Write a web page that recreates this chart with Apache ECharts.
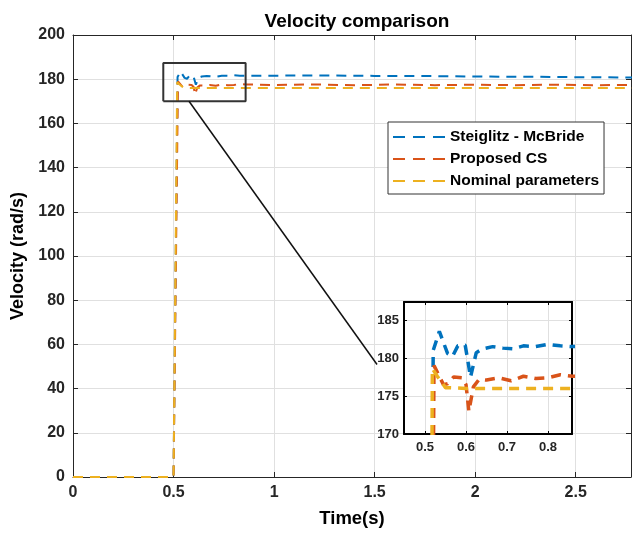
<!DOCTYPE html>
<html>
<head>
<meta charset="utf-8">
<script src="https://cdn.jsdelivr.net/npm/echarts@6/dist/echarts.min.js"></script>
<style>
html,body{margin:0;padding:0;background:#fff;}
#chart{width:633px;height:533px;}
</style>
</head>
<body>
<div id="chart"></div>
<script>
// ---- data ----
const seriesNames = ['Steiglitz - McBride', 'Proposed CS', 'Nominal parameters'];
const xTickLabels = [0, 0.5, 1, 1.5, 2, 2.5];
const insetXTicks = [0.5, 0.6, 0.7, 0.8];

const steiglitzT = [0, 0.5, 0.503, 0.52, 0.535, 0.555, 0.567, 0.58, 0.598, 0.604, 0.611, 0.625, 0.64, 0.665, 0.69, 0.714, 0.74, 0.77, 0.8, 0.83, 0.86, 1.0, 1.2, 1.5, 1.8, 2.0, 2.3, 2.5, 2.78];
const steiglitzV = [0, 0, 0, 181, 183.5, 180.6, 180.2, 181.6, 181.7, 179.8, 177.5, 180.7, 181.2, 181.5, 181.3, 181.2, 181.6, 181.5, 181.8, 181.6, 181.5, 181.6, 181.7, 181.5, 181.4, 181.2, 181.1, 180.9, 180.8];

const proposedT = [0, 0.5, 0.503, 0.522, 0.545, 0.555, 0.57, 0.59, 0.6, 0.607, 0.618, 0.632, 0.65, 0.68, 0.71, 0.74, 0.77, 0.8, 0.83, 0.86, 1.0, 1.2, 1.4, 1.6, 1.8, 2.0, 2.2, 2.4, 2.6, 2.78];
const proposedV = [0, 0, 0, 179, 176.5, 176.6, 177.5, 177.4, 176.5, 173, 176.2, 177.2, 177.1, 177.4, 177.0, 177.6, 177.3, 177.4, 177.8, 177.6, 177.4, 177.6, 177.3, 177.6, 177.3, 177.5, 177.3, 177.5, 177.3, 177.4];

const nominalT = [0, 0.5, 0.503, 0.518, 0.53, 0.55, 0.6, 0.8, 1.0, 1.5, 2.0, 2.5, 2.78];
const nominalV = [0, 0, 0, 178.6, 177.6, 176.1, 176, 176, 176, 176, 176, 176, 176];

// zoom rectangle & connector (data coordinates of main axes)
const zoomBoxT = [0.449, 0.8585, 0.8585, 0.449, 0.449];
const zoomBoxV = [170, 170, 187.37, 187.37, 170];
const connectorT = [0.577, 1.512];
const connectorV = [170, 50.9];

// ---- helpers ----
function pairs(t, v) { return t.map((x, i) => [x, v[i]]); }
const colors = ['#0072BD', '#D95319', '#EDB120'];
const FONT = 'Liberation Sans, Arial, sans-serif';
const tickFont = {fontFamily: FONT, fontWeight: 'bold', color: '#262626'};
const dashIcon = 'path://M0,0h12v2.2h-12z M20,0h12v2.2h-12z M40,0h12v2.2h-12z';

const chart = echarts.init(document.getElementById('chart'), null, {renderer: 'canvas'});

const mainX = {min: 0, max: 2.775, interval: 0.5};
const mainY = {min: 0, max: 200, interval: 20};
const insetXR = {min: 0.4488, max: 0.8585};
const insetYR = {min: 170, max: 187.37};

const axisLine = {show: true, onZero: false, lineStyle: {color: '#262626', width: 1}};
const insetAxisLine = {show: true, onZero: false, lineStyle: {color: '#000', width: 2}};
const split = {show: true, lineStyle: {color: '#e0e0e0', width: 1}};

const option = {
  animation: false,
  backgroundColor: '#fff',
  title: {
    text: 'Velocity comparison', left: 352, top: 7, textAlign: 'center',
    textStyle: {fontFamily: FONT, fontWeight: 'bold', fontSize: 19, color: '#000'}
  },
  legend: {
    data: seriesNames.map((n, i) => ({name: n, icon: dashIcon, itemStyle: {color: colors[i]}})),
    orient: 'vertical', left: 388, top: 122,
    padding: [6, 5, 4, 5], itemGap: 4, itemWidth: 52, itemHeight: 2.2,
    symbolKeepAspect: false,
    backgroundColor: '#fff', borderColor: '#333', borderWidth: 1, borderRadius: 0,
    textStyle: {fontFamily: FONT, fontWeight: 'bold', fontSize: 15.5, color: '#000', lineHeight: 18},
    selectedMode: false
  },
  grid: [
    {left: 73, top: 35, width: 558, height: 444, show: false, z: 0},
    {left: 404, top: 302, width: 168, height: 132, show: true, backgroundColor: '#fff', borderWidth: 0, z: 5}
  ],
  xAxis: [
    Object.assign({type: 'value', gridIndex: 0, position: 'bottom',
      name: 'Time(s)', nameLocation: 'middle', nameGap: 32,
      nameTextStyle: {fontFamily: FONT, fontWeight: 'bold', fontSize: 18.5, color: '#000'},
      axisLine: axisLine, axisTick: {inside: true, length: 5, lineStyle: {color: '#262626'}},
      axisLabel: Object.assign({fontSize: 16, margin: 8, showMaxLabel: false,
        formatter: v => (xTickLabels.indexOf(Math.round(v * 100) / 100) >= 0 ? String(Math.round(v * 100) / 100) : '')}, tickFont),
      splitLine: split, z: 1}, mainX),
    Object.assign({type: 'value', gridIndex: 0, position: 'top',
      axisLine: axisLine, axisTick: {inside: true, length: 5, lineStyle: {color: '#262626'}},
      axisLabel: {show: false}, splitLine: {show: false}, z: 1}, mainX),
    Object.assign({type: 'value', gridIndex: 1, position: 'bottom',
      axisLine: insetAxisLine, axisTick: {inside: true, length: 3, customValues: insetXTicks, lineStyle: {color: '#000'}},
      axisLabel: Object.assign({fontSize: 13, margin: 7, customValues: insetXTicks,
        formatter: v => v.toFixed(1)}, tickFont),
      splitLine: split, z: 6}, insetXR),
    Object.assign({type: 'value', gridIndex: 1, position: 'top',
      axisLine: insetAxisLine, axisTick: {inside: true, length: 3, customValues: insetXTicks, lineStyle: {color: '#000'}},
      axisLabel: {show: false}, splitLine: {show: false}, z: 6}, insetXR)
  ],
  yAxis: [
    Object.assign({type: 'value', gridIndex: 0, position: 'left',
      name: 'Velocity (rad/s)', nameLocation: 'middle', nameGap: 43,
      nameTextStyle: {fontFamily: FONT, fontWeight: 'bold', fontSize: 18, color: '#000'},
      axisLine: axisLine, axisTick: {inside: true, length: 5, lineStyle: {color: '#262626'}},
      axisLabel: Object.assign({fontSize: 16, margin: 8}, tickFont),
      splitLine: split, z: 1}, mainY),
    Object.assign({type: 'value', gridIndex: 0, position: 'right',
      axisLine: axisLine, axisTick: {inside: true, length: 5, lineStyle: {color: '#262626'}},
      axisLabel: {show: false}, splitLine: {show: false}, z: 1}, mainY),
    Object.assign({type: 'value', gridIndex: 1, position: 'left', interval: 5,
      axisLine: insetAxisLine, axisTick: {inside: true, length: 3, lineStyle: {color: '#000'}},
      axisLabel: Object.assign({fontSize: 13, margin: 5, showMaxLabel: false}, tickFont),
      splitLine: split, z: 6}, insetYR),
    Object.assign({type: 'value', gridIndex: 1, position: 'right', interval: 5,
      axisLine: insetAxisLine, axisTick: {inside: true, length: 3, lineStyle: {color: '#000'}},
      axisLabel: {show: false}, splitLine: {show: false}, z: 6}, insetYR)
  ],
  series: []
};

const allT = [steiglitzT, proposedT, nominalT];
const allV = [steiglitzV, proposedV, nominalV];

// main series
for (let i = 0; i < 3; i++) {
  option.series.push({
    name: seriesNames[i], type: 'line', xAxisIndex: 0, yAxisIndex: 0,
    data: pairs(allT[i], allV[i]), showSymbol: false, symbol: 'none',
    color: colors[i],
    lineStyle: {color: colors[i], width: 2, type: [10, 7]}, z: 2
  });
}
// inset series
for (let i = 0; i < 3; i++) {
  option.series.push({
    name: 'inset_' + i, type: 'line', xAxisIndex: 2, yAxisIndex: 2,
    data: pairs(allT[i], allV[i]), showSymbol: false, symbol: 'none',
    color: colors[i], clip: true,
    lineStyle: {color: colors[i], width: 3.5, type: [10, 7]}, z: 7
  });
}
// zoom box and connector
option.series.push({
  name: 'zoomBox', type: 'line', xAxisIndex: 0, yAxisIndex: 0,
  data: pairs(zoomBoxT, zoomBoxV), showSymbol: false, symbol: 'none',
  lineStyle: {color: '#333', width: 2}, z: 3, silent: true
});
option.series.push({
  name: 'connector', type: 'line', xAxisIndex: 0, yAxisIndex: 0,
  data: pairs(connectorT, connectorV), showSymbol: false, symbol: 'none',
  lineStyle: {color: '#111', width: 1.5}, z: 3, silent: true
});

chart.setOption(option);
</script>
</body>
</html>
